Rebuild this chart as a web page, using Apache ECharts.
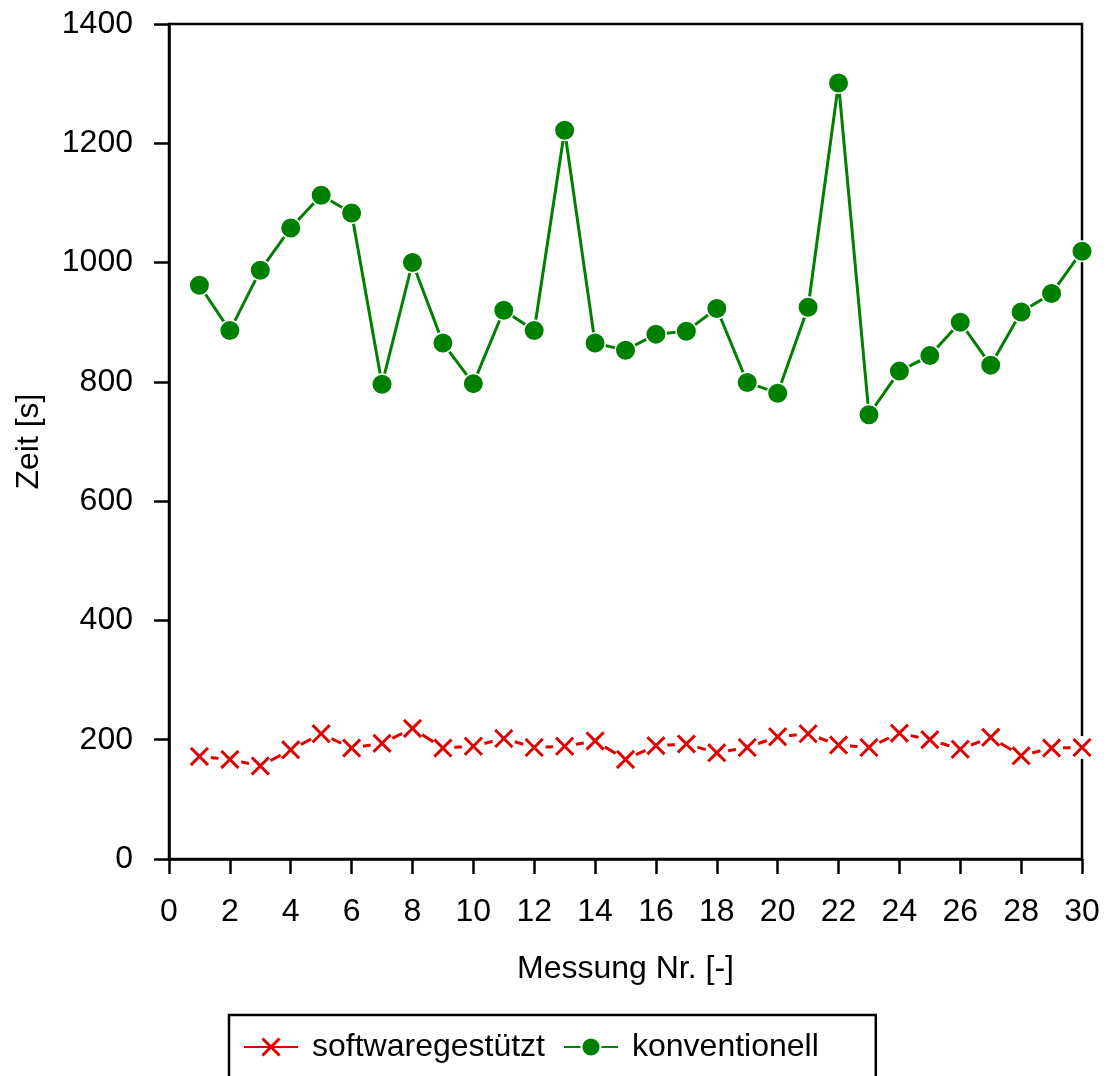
<!DOCTYPE html>
<html>
<head>
<meta charset="utf-8">
<script src="https://cdn.jsdelivr.net/npm/echarts@6/dist/echarts.min.js"></script>
<style>
html,body{margin:0;padding:0;background:#fff;}
#chart{width:1106px;height:1076px;}
</style>
</head>
<body>
<div id="chart"></div>
<script>
// Measurement numbers (x)
var messungNr = [1,2,3,4,5,6,7,8,9,10,11,12,13,14,15,16,17,18,19,20,21,22,23,24,25,26,27,28,29,30];
// Time in seconds
var softwaregestuetzt = [172,167,156,183,210,186,194,219,186,189,202,187,189,198,167,190,193,178,187,205,210,191,187,211,200,184,204,173,186,187];
var konventionell = [962,886,987,1058,1113,1083,796,1000,865,797,920,886,1222,865,853,880,885,923,799,781,925,1301,745,818,844,900,828,917,948,1019];
var seriesNames = ['softwaregestützt', 'konventionell'];
var xAxisTitle = 'Messung Nr. [-]';
var yAxisTitle = 'Zeit [s]';

function pairs(xs, ys) { return xs.map(function (x, i) { return [x, ys[i]]; }); }

var RED = '#e00000', GREEN = '#008000';
var FONT = 'Liberation Sans, Arial, Helvetica, sans-serif';
var FS = 32;
var XPATH = 'path://M0,11L11,0L50,39L89,0L100,11L61,50L100,89L89,100L50,61L11,100L0,89L39,50Z';

var chart = echarts.init(document.getElementById('chart'), null, {renderer: 'canvas'});
chart.setOption({
  animation: false,
  backgroundColor: '#fff',
  textStyle: {fontFamily: FONT, color: '#000'},
  grid: {left: 169, right: 24, top: 24, bottom: 217, show: true, borderColor: '#000', borderWidth: 2.5, containLabel: false},
  legend: {
    data: seriesNames,
    left: 229, top: 1015,
    orient: 'horizontal',
    itemWidth: 54, itemHeight: 24, itemGap: 18,
    padding: [16, 57, 60, 14],
    borderColor: '#000', borderWidth: 2.5,
    selectedMode: false,
    textStyle: {fontFamily: FONT, fontSize: FS, color: '#000', padding: [0, 0, 0, 9]}
  },
  xAxis: {
    type: 'value', min: 0, max: 30, interval: 2,
    name: xAxisTitle, nameLocation: 'middle', nameGap: 94,
    nameTextStyle: {fontFamily: FONT, fontSize: FS, color: '#000'},
    axisLine: {show: true, onZero: false, lineStyle: {color: '#000', width: 2.5}},
    axisTick: {show: true, inside: false, length: 15, lineStyle: {color: '#000', width: 2.5}},
    axisLabel: {fontFamily: FONT, fontSize: FS, color: '#000', margin: 37},
    splitLine: {show: false}
  },
  yAxis: {
    type: 'value', min: 0, max: 1400, interval: 200,
    name: yAxisTitle, nameLocation: 'middle', nameGap: 124, nameRotate: 90,
    nameTextStyle: {fontFamily: FONT, fontSize: FS, color: '#000'},
    axisLine: {show: true, onZero: false, lineStyle: {color: '#000', width: 2.5}},
    axisTick: {show: true, inside: false, length: 15, lineStyle: {color: '#000', width: 2.5}},
    axisLabel: {fontFamily: FONT, fontSize: FS, color: '#000', margin: 36, formatter: function (v) { return String(v); }},
    splitLine: {show: false}
  },
  series: [
    {
      name: seriesNames[0], type: 'line', z: 2, clip: false,
      data: pairs(messungNr, softwaregestuetzt),
      symbol: XPATH, symbolSize: 19,
      itemStyle: {color: RED},
      lineStyle: {color: RED, width: 3},
      emphasis: {disabled: true}
    },
    {
      name: 'mask', type: 'scatter', z: 3, clip: false, silent: true,
      data: pairs(messungNr, softwaregestuetzt),
      symbol: 'circle', symbolSize: 23,
      itemStyle: {color: '#fff', opacity: 1},
      emphasis: {disabled: true}
    },
    {
      name: seriesNames[0], type: 'scatter', z: 4, clip: false, silent: true,
      data: pairs(messungNr, softwaregestuetzt),
      symbol: XPATH, symbolSize: 19,
      itemStyle: {color: RED, opacity: 1},
      emphasis: {disabled: true}
    },
    {
      name: seriesNames[1], type: 'line', z: 2, clip: false,
      data: pairs(messungNr, konventionell),
      symbol: 'circle', symbolSize: 20.5,
      itemStyle: {color: GREEN, borderColor: '#fff', borderWidth: 1.5, opacity: 1},
      lineStyle: {color: GREEN, width: 3},
      emphasis: {disabled: true}
    }
  ]
});
</script>
</body>
</html>
